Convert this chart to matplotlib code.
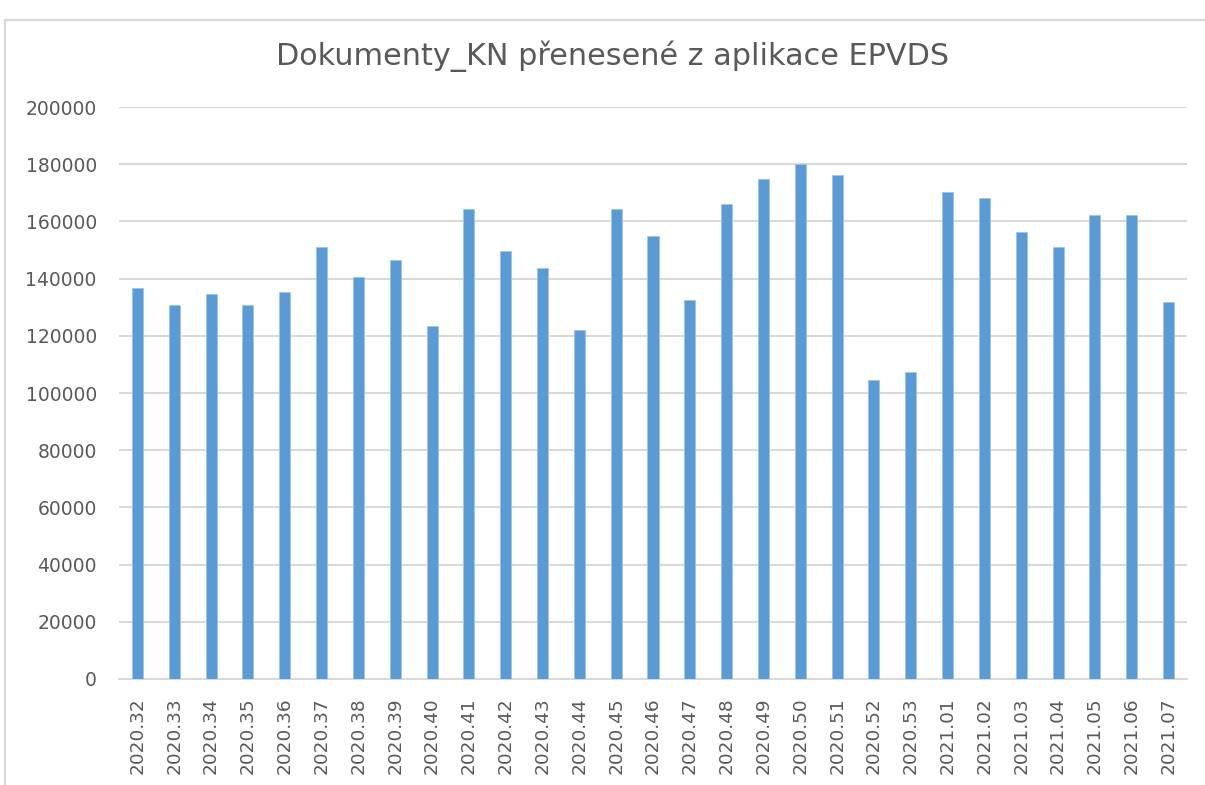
import matplotlib.pyplot as plt
from matplotlib.patches import Rectangle

plt.rcParams['font.family'] = ['DejaVu Sans']

weeks = ['2020.32', '2020.33', '2020.34', '2020.35', '2020.36', '2020.37', '2020.38',
         '2020.39', '2020.40', '2020.41', '2020.42', '2020.43', '2020.44', '2020.45',
         '2020.46', '2020.47', '2020.48', '2020.49', '2020.50', '2020.51', '2020.52',
         '2020.53', '2021.01', '2021.02', '2021.03', '2021.04', '2021.05', '2021.06',
         '2021.07']
docs = [136800, 130900, 134700, 130900, 135400, 151100, 140600,
        146600, 123600, 164400, 149600, 143600, 122200, 164400,
        154800, 132600, 166000, 174800, 180200, 176200, 104400,
        107400, 170400, 168200, 156300, 151100, 162200, 162200,
        131700]
yticks = list(range(0, 200001, 20000))

W, H = 1205, 785
fig = plt.figure(figsize=(W / 100, H / 100), dpi=100)

# chart frame (only left and top edge visible in the screenshot)
fig.patches.append(Rectangle((5 / W, -0.1), 1.1, 1 - 20 / H + 0.1, transform=fig.transFigure,
                             fill=False, edgecolor='#D9D9D9', linewidth=1.5))

ax = fig.add_axes([119 / W, 1 - 679 / H, (1187 - 119) / W, (679 - 107) / H])
x = range(len(weeks))
ax.bar(x, docs, width=0.3, color='#5B9BD5', edgecolor='#9DC3E6', linewidth=0.6, zorder=3)

ax.set_ylim(0, 200000)
ax.set_xlim(-0.5, len(weeks) - 0.5)
ax.set_yticks(yticks)
ax.set_yticklabels([str(v) for v in yticks], fontsize=13.5, color='#595959')
ax.set_xticks(list(x))
ax.set_xticklabels(weeks, rotation=90, fontsize=13.3, color='#595959')
ax.tick_params(axis='y', length=0, pad=16)
ax.tick_params(axis='x', length=0, pad=13)
ax.grid(axis='y', color='#D9D9D9', linewidth=1.5, zorder=0)
for s in ['top', 'right', 'left']:
    ax.spines[s].set_visible(False)
ax.spines['bottom'].set_color('#D9D9D9')
ax.spines['bottom'].set_linewidth(1.5)

fig.text(613 / W, 1 - 56 / H, 'Dokumenty_KN přenesené z aplikace EPVDS',
         ha='center', va='center', fontsize=21.8, color='#595959')

fig.savefig('out.png', dpi=100)
